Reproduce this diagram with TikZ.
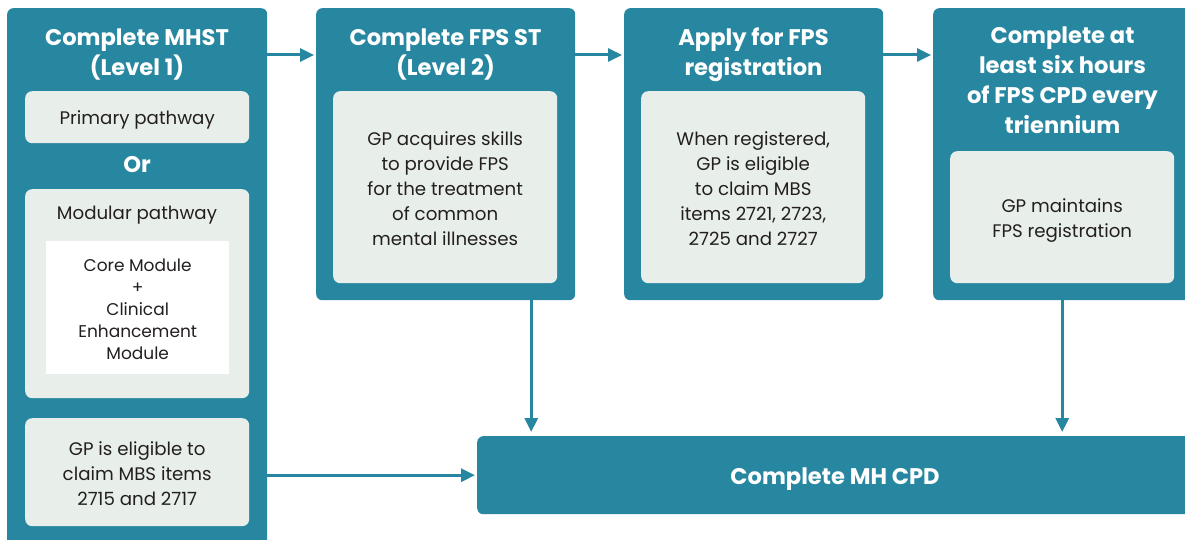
\documentclass[tikz,border=0pt]{standalone}
\usepackage{fontspec}
\setmainfont{Poppins}
\usetikzlibrary{arrows.meta,calc}
\definecolor{tealbox}{HTML}{2887A0}
\definecolor{palebox}{HTML}{E8EFEA}
\definecolor{inkc}{HTML}{231F20}
\begin{document}
\begin{tikzpicture}[x=1pt,y=-1pt,
  outerbox/.style={fill=tealbox, draw=none, rounded corners=6pt, inner sep=0pt, anchor=north west},
  innerbox/.style={fill=palebox, draw=none, rounded corners=7pt, inner sep=0pt, anchor=north west},
  whitebox/.style={fill=white, draw=none, inner sep=0pt, anchor=north west},
  titletext/.style={text=white, font=\bfseries\fontsize{22.6}{30}\selectfont, align=center, inner sep=0pt},
  bodytext/.style={text=inkc, font=\fontsize{18.2}{25}\selectfont, align=center, inner sep=0pt},
  smalltext/.style={text=inkc, font=\fontsize{17}{22}\selectfont, align=center, inner sep=0pt},
  arr/.style={draw=tealbox, line width=3pt, -{Triangle[length=14pt,width=13pt]}, shorten >=2pt}
]
\useasboundingbox (0,0) rectangle (1185,540);
\clip (0,0) rectangle (1185,540);

% boxes
\node[outerbox, minimum width=260pt, minimum height=560pt] (mhst) at (7,8) {};
\node[innerbox, minimum width=224pt, minimum height=52pt] (prim) at (25,91) {};
\node[innerbox, minimum width=224pt, minimum height=209pt] (modp) at (25,189) {};
\node[whitebox, minimum width=183pt, minimum height=133pt] (core) at (46,241) {};
\node[innerbox, minimum width=224pt, minimum height=108pt] (elig) at (25,418) {};

\node[outerbox, minimum width=259pt, minimum height=292pt] (fps) at (316,8) {};
\node[innerbox, minimum width=224pt, minimum height=192pt] (fpsin) at (333,91) {};

\node[outerbox, minimum width=259pt, minimum height=292pt] (reg) at (624,8) {};
\node[innerbox, minimum width=224pt, minimum height=192pt] (regin) at (641,91) {};

\node[outerbox, minimum width=259pt, minimum height=292pt] (six) at (933,8) {};
\node[innerbox, minimum width=224pt, minimum height=132pt] (sixin) at (950,151) {};

\node[outerbox, minimum width=716pt, minimum height=78pt] (mhcpd) at (477,436) {};

% texts
\node[titletext] (t1) at (137,54.5) {Complete MHST\\(Level 1)};
\node[bodytext] (tprim) at ([yshift=-2.5pt]prim.center) {Primary pathway};
\node[titletext] (tor) at (137,165) {Or};
\node[bodytext] (tmod) at (137,215) {Modular pathway};
\node[smalltext] (tcore) at ([yshift=-1.5pt]core.center) {Core Module\\+\\Clinical\\Enhancement\\Module};
\node[bodytext] (telig) at ([yshift=-1pt]elig.center) {GP is eligible to\\claim MBS items\\2715 and 2717};

\node[titletext] (t2) at (445.5,54.5) {Complete FPS ST\\(Level 2)};
\node[bodytext] (tfps) at ([yshift=-1pt]fpsin.center) {GP acquires skills\\to provide FPS\\for the treatment\\of common\\mental illnesses};

\node[titletext] (t3) at (753.5,54.5) {Apply for FPS\\registration};
\node[bodytext] (treg) at ([yshift=-1pt]regin.center) {When registered,\\GP is eligible\\to claim MBS\\items 2721, 2723,\\2725 and 2727};

\node[titletext] (t4) at (1062.5,80.5) {Complete at\\least six hours\\of FPS CPD every\\triennium};
\node[bodytext] (tsix) at ([yshift=-3pt]sixin.center) {GP maintains\\FPS registration};

\node[titletext] (t5) at (835,479) {Complete MH CPD};

% connectors
\draw[arr] ([yshift=-47pt]mhst.north east) -- ([yshift=-47pt]fps.north west);
\draw[arr] ([yshift=-47pt]fps.north east) -- ([yshift=-47pt]reg.north west);
\draw[arr] ([yshift=-47pt]reg.north east) -- ([yshift=-47pt]six.north west);
\draw[arr, shorten >=4pt] ([xshift=85.5pt]fps.south) -- ([xshift=85.5pt]fps.south |- mhcpd.north);
\draw[arr, shorten >=4pt] ([xshift=-0.5pt]six.south) -- ([xshift=-0.5pt]six.south |- mhcpd.north);
\draw[arr] (mhst.east |- mhcpd.west) -- (mhcpd.west);
\end{tikzpicture}
\end{document}
